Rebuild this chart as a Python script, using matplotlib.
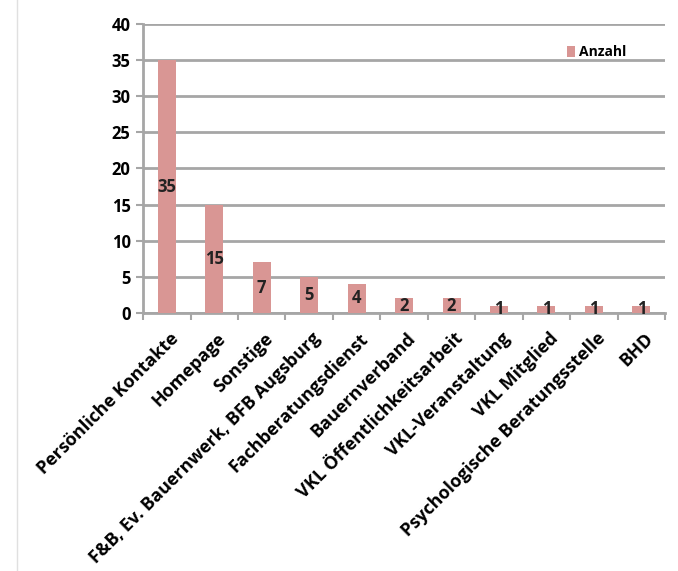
import matplotlib.pyplot as plt
import numpy as np

categories = ["Persönliche Kontakte", "Homepage", "Sonstige",
              "F&B, Ev. Bauernwerk, BFB Augsburg", "Fachberatungsdienst",
              "Bauernverband", "VKL Öffentlichkeitsarbeit", "VKL-Veranstaltung",
              "VKL Mitglied", "Psychologische Beratungsstelle", "BHD"]
anzahl = [35, 15, 7, 5, 4, 2, 2, 1, 1, 1, 1]
yticks = [0, 5, 10, 15, 20, 25, 30, 35, 40]

plt.rcParams['font.family'] = ['Open Sans', 'DejaVu Sans']

fig = plt.figure(figsize=(6.78, 5.71), dpi=100)
ax = fig.add_axes([0.211, 0.452, 0.77, 0.506])

x = np.arange(len(categories))
bars = ax.bar(x, anzahl, width=0.38, color='#d99694', label='Anzahl', zorder=3)

for b, v in zip(bars, anzahl):
    ax.text(b.get_x() + b.get_width() / 2, v / 2, str(v), ha='center', va='center',
            fontsize=12, fontweight='bold', color='#222222', zorder=4)

ax.set_ylim(0, 40)
ax.set_xlim(-0.5, len(categories) - 0.5)
ax.set_yticks(yticks)
ax.set_yticklabels([str(t) for t in yticks], fontsize=12, fontweight='bold')
ax.yaxis.grid(True, color='#a6a6a6', linewidth=2, zorder=0)
ax.set_axisbelow(True)

ax.set_xticks(x + 0.05)
ax.set_xticklabels(categories, rotation=45, ha='right', rotation_mode='anchor',
                   fontsize=13, fontweight='bold')
ax.set_xticks(np.arange(len(categories) + 1) - 0.5, minor=True)
ax.tick_params(axis='x', which='major', length=0, pad=12)
ax.tick_params(axis='x', which='minor', length=5, color='#a6a6a6', width=1.5)
ax.tick_params(axis='y', length=5, color='#a6a6a6', width=1.5, pad=4)

for s in ['top', 'right']:
    ax.spines[s].set_visible(False)
for s in ['left', 'bottom']:
    ax.spines[s].set_color('#a6a6a6')
    ax.spines[s].set_linewidth(2)

leg = ax.legend(loc='upper right', bbox_to_anchor=(0.95, 0.97), frameon=False,
                handlelength=0.6, handleheight=0.9, handletextpad=0.3,
                prop={'weight': 'bold', 'size': 10})

fig.add_artist(plt.Line2D([0.025, 0.025], [0.0, 1.0], color='#e0e0e0', linewidth=1))

fig.savefig('out.png', dpi=100, facecolor='white')
